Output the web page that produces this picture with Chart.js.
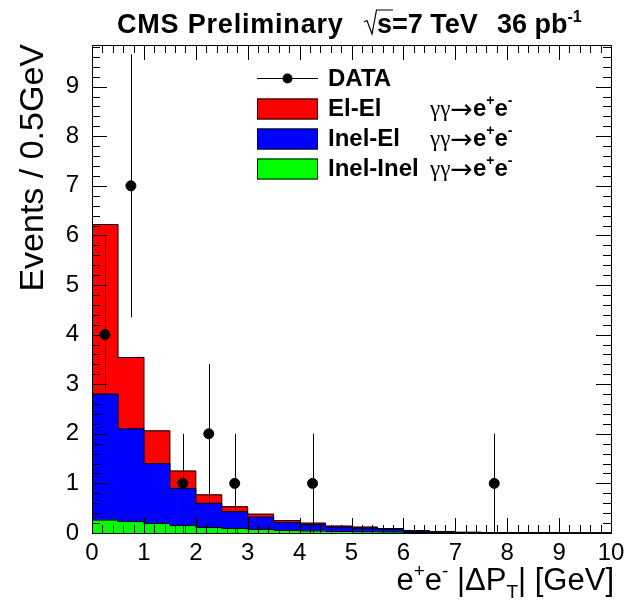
<!DOCTYPE html>
<html>
<head>
<meta charset="utf-8">
<script src="https://cdn.jsdelivr.net/npm/chart.js@4.4.1/dist/chart.umd.min.js"></script>
<style>
  body { margin: 0; background: #fff; }
  #wrap { width: 627px; height: 602px; }
</style>
</head>
<body>
<div id="wrap"><canvas id="myChart" width="627" height="602"></canvas></div>
<script>
// histogram bins, 0.5 GeV wide
const binEdges = [0, 0.5, 1, 1.5, 2, 2.5, 3, 3.5, 4, 4.5, 5, 5.5, 6, 6.5, 7, 7.5, 8, 8.5, 9, 9.5, 10];
const binCenters = [0.25, 0.75, 1.25, 1.75, 2.25, 2.75, 3.25, 3.75, 4.25, 4.75, 5.25, 5.75, 6.25, 6.75, 7.25, 7.75, 8.25, 8.75, 9.25, 9.75];

// stacked MC components (bottom to top)
const inelInel = [0.26, 0.23, 0.19, 0.15, 0.11, 0.09, 0.07, 0.05, 0.04, 0.03, 0.025, 0.02, 0.01, 0.006, 0.004, 0.002, 0.001, 0.001, 0, 0];
const inelEl = [2.54, 1.87, 1.21, 0.75, 0.49, 0.34, 0.25, 0.16, 0.13, 0.09, 0.075, 0.055, 0.03, 0.019, 0.008, 0.006, 0.003, 0.001, 0.001, 0.001];
const elEl = [3.42, 1.44, 0.66, 0.35, 0.17, 0.10, 0.06, 0.04, 0.03, 0.02, 0.02, 0.015, 0.01, 0.005, 0.003, 0.002, 0.001, 0.001, 0.001, 0];

// data points
const dataX = [0.25, 0.75, 1.75, 2.25, 2.75, 4.25, 7.75];
const dataY = [4, 7, 1, 2, 1, 1, 1];
const dataErr = [2, 2.65, 1, 1.41, 1, 1, 1];

const yMax = 9.84;
const sans = '"Liberation Sans", Arial, sans-serif';
const serif = '"Liberation Serif", "Times New Roman", serif';

// cumulative tops for the black step outlines
let cumGreen = inelInel.slice();
let cumBlue = inelInel.map((v, i) => v + inelEl[i]);
let cumRed = cumBlue.map((v, i) => v + elEl[i]);

function stepLine(cum) {
    return binEdges.map((e, i) => ({x: e, y: i < cum.length ? cum[i] : 0}));
}
function barData(vals) {
    return binCenters.map((c, i) => ({x: c, y: vals[i]}));
}

// error bars get drawn right before the data points
const errorBars = {
    id: 'errorBars',
    beforeDatasetDraw(chart, args) {
        if (args.index !== 6) return;
        const ctx = chart.ctx, xs = chart.scales.x, ys = chart.scales.yo;
        ctx.save();
        ctx.strokeStyle = '#000';
        ctx.lineWidth = 1;
        for (let i = 0; i < dataX.length; i++) {
            let px = Math.round(xs.getPixelForValue(dataX[i])) + 0.5;
            ctx.beginPath();
            ctx.moveTo(px, ys.getPixelForValue(Math.min(dataY[i] + dataErr[i], yMax)));
            ctx.lineTo(px, ys.getPixelForValue(Math.max(dataY[i] - dataErr[i], 0)));
            ctx.stroke();
        }
        ctx.restore();
    }
};

// ROOT style frame with ticks pointing inward on all four sides
const frameTicks = {
    id: 'frameTicks',
    afterDatasetsDraw(chart) {
        const ctx = chart.ctx, a = chart.chartArea;
        const xs = chart.scales.x, ys = chart.scales.y;
        ctx.save();
        ctx.strokeStyle = '#000';
        ctx.lineWidth = 1;
        ctx.beginPath();
        for (let k = 0; k <= 50; k++) {
            let v = k * 0.2;
            let len = k % 5 === 0 ? 15 : 8;
            let px = Math.round(xs.getPixelForValue(v)) + 0.5;
            ctx.moveTo(px, a.bottom); ctx.lineTo(px, a.bottom - len);
            ctx.moveTo(px, a.top); ctx.lineTo(px, a.top + len);
        }
        for (let k = 0; k <= 49; k++) {
            let v = k * 0.2;
            if (v > yMax) break;
            let len = k % 5 === 0 ? 15 : 8;
            let py = Math.round(ys.getPixelForValue(v)) + 0.5;
            ctx.moveTo(a.left, py); ctx.lineTo(a.left + len, py);
            ctx.moveTo(a.right, py); ctx.lineTo(a.right - len, py);
        }
        ctx.stroke();
        ctx.strokeRect(Math.round(a.left) + 0.5, Math.round(a.top) + 0.5,
            Math.round(a.right - a.left), Math.round(a.bottom - a.top));
        ctx.restore();
    }
};

// draws a run of text pieces, returns the end x
function drawRun(ctx, x, y, pieces) {
    for (const p of pieces) {
        ctx.font = p.font;
        ctx.fillText(p.t, x, y + (p.dy || 0));
        x += ctx.measureText(p.t).width;
    }
    return x;
}
function runWidth(ctx, pieces) {
    let w = 0;
    for (const p of pieces) { ctx.font = p.font; w += ctx.measureText(p.t).width; }
    return w;
}

const texts = {
    id: 'texts',
    afterDraw(chart) {
        const ctx = chart.ctx;
        ctx.save();
        ctx.fillStyle = '#000';
        ctx.textBaseline = 'alphabetic';
        ctx.textAlign = 'left';

        // title
        const tb = 'bold 27px ' + sans;
        ctx.letterSpacing = '0.8px';
        drawRun(ctx, 117, 33, [{t: 'CMS Preliminary', font: tb}]);
        ctx.letterSpacing = '0px';
        ctx.strokeStyle = '#000';
        ctx.lineWidth = 1.2;
        ctx.beginPath();
        ctx.moveTo(364, 22); ctx.lineTo(367, 20.5); ctx.lineTo(372, 34);
        ctx.lineTo(376.5, 10); ctx.lineTo(393, 10);
        ctx.stroke();
        drawRun(ctx, 377, 33, [{t: 's=7 TeV', font: tb}]);
        drawRun(ctx, 497, 33, [{t: '36 pb', font: tb}, {t: '-1', font: 'bold 16px ' + sans, dy: -11}]);

        // legend
        const lb = 'bold 24px ' + sans;
        ctx.textBaseline = 'middle';
        ctx.lineWidth = 1;
        ctx.beginPath();
        ctx.moveTo(257, 78.5); ctx.lineTo(318, 78.5);
        ctx.stroke();
        ctx.beginPath();
        ctx.arc(287.5, 78.5, 5, 0, Math.PI * 2);
        ctx.fill();
        ctx.font = lb;
        ctx.fillText('DATA', 328, 79);
        const rows = [
            {label: 'El-El', color: '#ff0000', y: 108.5},
            {label: 'Inel-El', color: '#0000ff', y: 138.5},
            {label: 'Inel-Inel', color: '#00ff00', y: 168.5}
        ];
        for (const r of rows) {
            ctx.fillStyle = r.color;
            ctx.fillRect(257, r.y - 10, 61, 21);
            ctx.strokeStyle = '#000';
            ctx.strokeRect(257.5, r.y - 9.5, 60, 20);
            ctx.fillStyle = '#000';
            ctx.font = lb;
            ctx.fillText(r.label, 328, r.y + 1);
            drawRun(ctx, 430, r.y + 1, [
                {t: 'γγ', font: '23px ' + serif},
                {t: '→', font: '27px "DejaVu Sans", sans-serif', dy: 1},
                {t: 'e', font: lb},
                {t: '+', font: 'bold 14px ' + sans, dy: -8},
                {t: 'e', font: lb},
                {t: '-', font: 'bold 14px ' + sans, dy: -8}
            ]);
        }

        // x axis title, right aligned to the frame
        ctx.textBaseline = 'alphabetic';
        const xf = '31px ' + sans, xs = '19px ' + sans;
        const xt = [
            {t: 'e', font: xf}, {t: '+', font: xs, dy: -13},
            {t: 'e', font: xf}, {t: '-', font: xs, dy: -13},
            {t: ' |ΔP', font: xf}, {t: 'T', font: xs, dy: 8},
            {t: '| [GeV]', font: xf}
        ];
        drawRun(ctx, 614 - runWidth(ctx, xt), 590, xt);

        // y axis title, rotated, ending at the top of the frame
        ctx.translate(43, 44);
        ctx.rotate(-Math.PI / 2);
        ctx.textAlign = 'right';
        ctx.font = '34px ' + sans;
        ctx.fillText('Events / 0.5GeV', 0, 0);
        ctx.restore();
    }
};

const ctx = document.getElementById('myChart').getContext('2d');
const chart = new Chart(ctx, {
    type: 'bar',
    data: {
        datasets: [
            {label: 'Inel-Inel', data: barData(inelInel), backgroundColor: '#00ff00', borderWidth: 0, order: 3},
            {label: 'Inel-El', data: barData(inelEl), backgroundColor: '#0000ff', borderWidth: 0, order: 3},
            {label: 'El-El', data: barData(elEl), backgroundColor: '#ff0000', borderWidth: 0, order: 3},
            {type: 'line', data: stepLine(cumGreen), yAxisID: 'yo', stepped: 'before', borderColor: '#000', borderWidth: 1, pointRadius: 0, fill: false, order: 2},
            {type: 'line', data: stepLine(cumBlue), yAxisID: 'yo', stepped: 'before', borderColor: '#000', borderWidth: 1, pointRadius: 0, fill: false, order: 2},
            {type: 'line', data: stepLine(cumRed), yAxisID: 'yo', stepped: 'before', borderColor: '#000', borderWidth: 1, pointRadius: 0, fill: false, order: 2},
            {type: 'scatter', label: 'DATA', data: dataX.map((x, i) => ({x: x, y: dataY[i]})), yAxisID: 'yo',
                backgroundColor: '#000', borderColor: '#000', pointRadius: 5, pointStyle: 'circle', order: 1}
        ]
    },
    options: {
        responsive: false,
        animation: false,
        barPercentage: 1,
        categoryPercentage: 1,
        layout: {padding: {top: 45, right: 16, left: 0, bottom: 0}},
        plugins: {legend: {display: false}, tooltip: {enabled: false}, title: {display: false}},
        scales: {
            x: {
                type: 'linear', min: 0, max: 10, stacked: true, offset: false,
                grid: {display: false}, border: {display: false},
                ticks: {stepSize: 1, autoSkip: false, maxRotation: 0, padding: 0, color: '#000',
                    font: {family: sans, size: 24, lineHeight: 1}},
                afterFit(scale) { scale.height = 69; }
            },
            y: {
                min: 0, max: yMax, stacked: true,
                grid: {display: false}, border: {display: false},
                ticks: {stepSize: 1, includeBounds: false, padding: 5, color: '#000',
                    font: {family: sans, size: 24}},
                afterFit(scale) { scale.width = 92; }
            },
            yo: {min: 0, max: yMax, display: false, stacked: false}
        }
    },
    plugins: [errorBars, frameTicks, texts]
});
</script>
</body>
</html>
